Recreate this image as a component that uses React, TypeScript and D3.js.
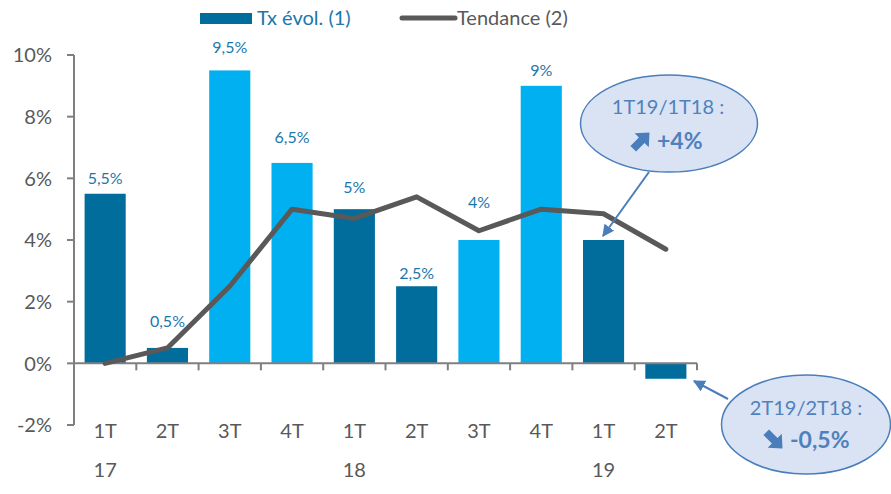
import React from "react";
import * as d3 from "d3";

const quarters = ["1T", "2T", "3T", "4T", "1T", "2T", "3T", "4T", "1T", "2T"];
const years = ["17", "", "", "", "18", "", "", "", "19", ""];
const txEvol = [5.5, 0.5, 9.5, 6.5, 5, 2.5, 4, 9, 4, -0.5];
const tendance = [0, 0.5, 2.5, 5.0, 4.7, 5.4, 4.3, 5.0, 4.85, 3.7];
const barLabels = ["5,5%", "0,5%", "9,5%", "6,5%", "5%", "2,5%", "4%", "9%", "", ""];
const yTicks = [-2, 0, 2, 4, 6, 8, 10];

// styling (not data)
const labelOffsets = [16, 27, 23, 26, 22, 13, 38, 16, 0, 0];
const isLight = [false, false, true, true, false, false, true, true, false, false];

const W = 891;
const H = 494;
const DARK = "#006D9C";
const LIGHT = "#00B0F0";
const GRAY = "#595959";
const AXIS = "#7F7F7F";
const LBL = "#1A78AA";
const CALL_STROKE = "#4A7EBB";
const CALL_FILL = "#DAE3F3";
const CALL_TEXT = "#4F81BD";
const FONT = "Lato, 'Open Sans', sans-serif";

function ThickArrow({ cx, cy, angle }: { cx: number; cy: number; angle: number }) {
  const d = "M0,-12 L10,-1 L4,-1 L4,11 L-4,11 L-4,-1 L-10,-1 Z";
  return <path d={d} fill={CALL_STROKE} transform={`translate(${cx},${cy}) rotate(${angle})`} />;
}

export default function App() {
  const idx = quarters.map((_, i) => String(i));
  const x = d3.scaleBand().domain(idx).range([74, 697]).padding(0);
  const y = d3.scaleLinear().domain([-2, 10]).range([425, 55]);
  const bw = x.bandwidth() * 0.66;
  const cx = (i: number) => (x(String(i)) as number) + x.bandwidth() / 2;

  const line = d3
    .line<number>()
    .x((_, i) => cx(i))
    .y((d) => y(d));

  const y0 = y(0);
  const boundaries = d3.range(quarters.length + 1).map((i) => 74 + i * x.bandwidth());

  return (
    <svg
      width={W}
      height={H}
      style={{ position: "absolute", left: 0, top: 0, background: "#fff" }}
      fontFamily={FONT}
    >
      <defs>
        <marker id="ah" viewBox="0 0 10 10" refX="9" refY="5" markerWidth="6" markerHeight="6" orient="auto-start-reverse">
          <path d="M0,0 L10,5 L0,10 Z" fill={CALL_STROKE} />
        </marker>
      </defs>

      {/* Legend */}
      <rect x={200} y={13} width={52} height={11} fill={DARK} />
      <text x={257} y={25} fontSize={20} fill={LBL}>Tx évol. (1)</text>
      <line x1={402} y1={18} x2={455} y2={18} stroke={GRAY} strokeWidth={5} strokeLinecap="round" />
      <text x={457} y={25} fontSize={20} fill={GRAY}>Tendance (2)</text>

      {/* Bars */}
      {txEvol.map((v, i) => (
        <rect
          key={i}
          x={cx(i) - bw / 2}
          y={Math.min(y(v), y0)}
          width={bw}
          height={Math.abs(y(v) - y0)}
          fill={isLight[i] ? LIGHT : DARK}
        />
      ))}

      {/* Y axis */}
      <line x1={74} y1={y(10)} x2={74} y2={y(-2)} stroke={AXIS} strokeWidth={2} />
      {yTicks.map((t) => (
        <g key={t}>
          <line x1={67} y1={y(t)} x2={74} y2={y(t)} stroke={AXIS} strokeWidth={2} />
          <text x={52} y={y(t)} dy="0.36em" textAnchor="end" fontSize={20} fill={GRAY}>
            {`${t}%`}
          </text>
        </g>
      ))}

      {/* X axis */}
      <line x1={74} y1={y0} x2={697} y2={y0} stroke={AXIS} strokeWidth={2} />
      {boundaries.map((b, i) => (
        <line key={i} x1={b} y1={y0} x2={b} y2={y0 + 7} stroke={AXIS} strokeWidth={2} />
      ))}
      {quarters.map((q, i) => (
        <g key={i}>
          <text x={cx(i)} y={438} textAnchor="middle" fontSize={20} fill={GRAY}>{q}</text>
          {years[i] && (
            <text x={cx(i)} y={477} textAnchor="middle" fontSize={20} fill={GRAY}>{years[i]}</text>
          )}
        </g>
      ))}

      {/* Trend line */}
      <path d={line(tendance) || ""} fill="none" stroke={GRAY} strokeWidth={5} strokeLinejoin="round" strokeLinecap="round" />

      {/* Bar labels */}
      {txEvol.map((v, i) =>
        barLabels[i] ? (
          <text key={i} x={cx(i)} y={y(v) - labelOffsets[i]} dy="0.36em" textAnchor="middle" fontSize={16} fill={LBL}>
            {barLabels[i]}
          </text>
        ) : null
      )}

      {/* Callout 1 */}
      <line x1={649} y1={172} x2={603} y2={236} stroke={CALL_STROKE} strokeWidth={2} markerEnd="url(#ah)" />
      <ellipse cx={669} cy={123.5} rx={88.5} ry={48.5} fill={CALL_FILL} stroke={CALL_STROKE} strokeWidth={1.5} />
      <text x={668} y={107} dy="0.36em" textAnchor="middle" fontSize={20} fill={CALL_TEXT}>1T19/1T18 :</text>
      <ThickArrow cx={641} cy={141} angle={45} />
      <text x={657} y={141} dy="0.36em" fontSize={23} fontWeight="bold" fill={CALL_TEXT}>+4%</text>

      {/* Callout 2 */}
      <line x1={728} y1={399} x2={694} y2={381} stroke={CALL_STROKE} strokeWidth={2} markerEnd="url(#ah)" />
      <ellipse cx={806} cy={424.5} rx={84.5} ry={49.5} fill={CALL_FILL} stroke={CALL_STROKE} strokeWidth={1.5} />
      <text x={806} y={408} dy="0.36em" textAnchor="middle" fontSize={20} fill={CALL_TEXT}>2T19/2T18 :</text>
      <ThickArrow cx={774} cy={440} angle={135} />
      <text x={790} y={440} dy="0.36em" fontSize={23} fontWeight="bold" fill={CALL_TEXT}>-0,5%</text>
    </svg>
  );
}
